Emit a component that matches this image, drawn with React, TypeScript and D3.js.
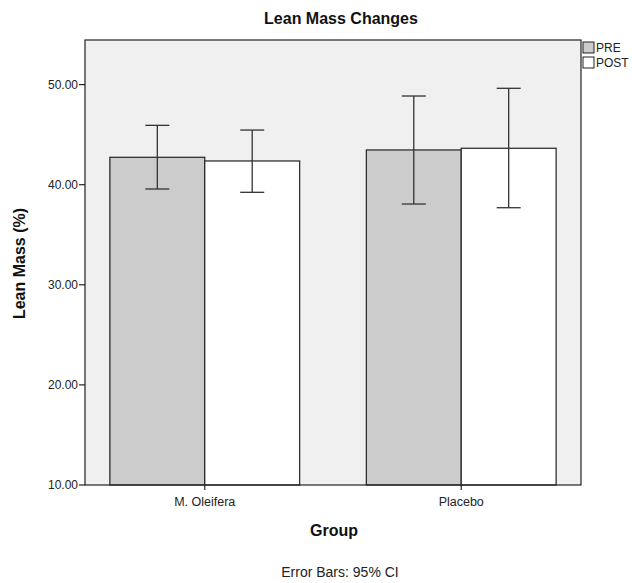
import React from "react";
import * as d3 from "d3";

const categories = ["M. Oleifera", "Placebo"];
const series = ["PRE", "POST"];
const means = [
  [42.74, 42.37],
  [43.47, 43.64],
];
const ciLow = [
  [39.57, 39.24],
  [38.07, 37.7],
];
const ciHigh = [
  [45.93, 45.46],
  [48.86, 49.63],
];
const yTicks = [10, 20, 30, 40, 50];
const fills = ["#cccccc", "#ffffff"];

const W = 632;
const H = 583;
const left = 85;
const right = 581;
const top = 40;
const bottom = 485;
const font = "'Liberation Sans', Arial, sans-serif";

export default function App() {
  const x = d3
    .scaleBand<string>()
    .domain(categories)
    .range([left, right])
    .paddingInner(0.26)
    .paddingOuter(0.097);
  const xs = d3.scaleBand<string>().domain(series).range([0, x.bandwidth()]);
  const y = d3.scaleLinear().domain([10, 50]).range([bottom, bottom - 40 * 10.01]);
  const cap = 12;

  return (
    <svg
      width={W}
      height={H}
      style={{ position: "absolute", left: 0, top: 0, background: "#fff" }}
    >
      <rect x={left} y={top} width={right - left} height={bottom - top} fill="#f0f0f0" stroke="none" />
      {categories.map((c, i) =>
        series.map((s, j) => {
          const bx = (x(c) as number) + (xs(s) as number);
          const bw = xs.bandwidth();
          return (
            <rect
              key={c + s}
              x={bx}
              y={y(means[i][j])}
              width={bw}
              height={bottom - y(means[i][j])}
              fill={fills[j]}
              stroke="#222"
              strokeWidth={1.2}
            />
          );
        })
      )}
      {categories.map((c, i) =>
        series.map((s, j) => {
          const cx = (x(c) as number) + (xs(s) as number) + xs.bandwidth() / 2;
          return (
            <g key={"e" + c + s} stroke="#333" strokeWidth={1.3}>
              <line x1={cx} x2={cx} y1={y(ciLow[i][j])} y2={y(ciHigh[i][j])} />
              <line x1={cx - cap} x2={cx + cap} y1={y(ciLow[i][j])} y2={y(ciLow[i][j])} />
              <line x1={cx - cap} x2={cx + cap} y1={y(ciHigh[i][j])} y2={y(ciHigh[i][j])} />
            </g>
          );
        })
      )}
      <rect x={left} y={top} width={right - left} height={bottom - top} fill="none" stroke="#222" strokeWidth={1.2} />
      {yTicks.map((t) => (
        <g key={t}>
          <line x1={left - 6} x2={left} y1={y(t)} y2={y(t)} stroke="#222" strokeWidth={1.2} />
          <text x={left - 7} y={y(t)} dy="0.36em" textAnchor="end" fontFamily={font} fontSize={12} fill="#222">
            {t.toFixed(2)}
          </text>
        </g>
      ))}
      {categories.map((c) => {
        const cx = (x(c) as number) + x.bandwidth() / 2;
        return (
          <g key={"xt" + c}>
            <line x1={cx} x2={cx} y1={bottom} y2={bottom + 5} stroke="#222" strokeWidth={1.2} />
            <text x={cx} y={bottom + 21} textAnchor="middle" fontFamily={font} fontSize={12.5} fill="#222">
              {c}
            </text>
          </g>
        );
      })}
      <text x={341} y={24} textAnchor="middle" fontFamily={font} fontSize={16} fontWeight="bold" fill="#111">
        Lean Mass Changes
      </text>
      <text
        transform={`translate(25,${(top + bottom) / 2 + 1}) rotate(-90)`}
        textAnchor="middle"
        fontFamily={font}
        fontSize={16}
        fontWeight="bold"
        fill="#111"
      >
        Lean Mass (%)
      </text>
      <text x={334} y={536} textAnchor="middle" fontFamily={font} fontSize={16} fontWeight="bold" fill="#111">
        Group
      </text>
      <text x={340} y={577} textAnchor="middle" fontFamily={font} fontSize={14} fill="#222">
        Error Bars: 95% CI
      </text>
      {series.map((s, j) => (
        <g key={"lg" + s}>
          <rect x={583} y={42 + j * 15} width={11} height={11} fill={fills[j]} stroke="#222" strokeWidth={1} />
          <text x={596} y={52 + j * 15} fontFamily={font} fontSize={12} fill="#222">
            {s}
          </text>
        </g>
      ))}
    </svg>
  );
}
